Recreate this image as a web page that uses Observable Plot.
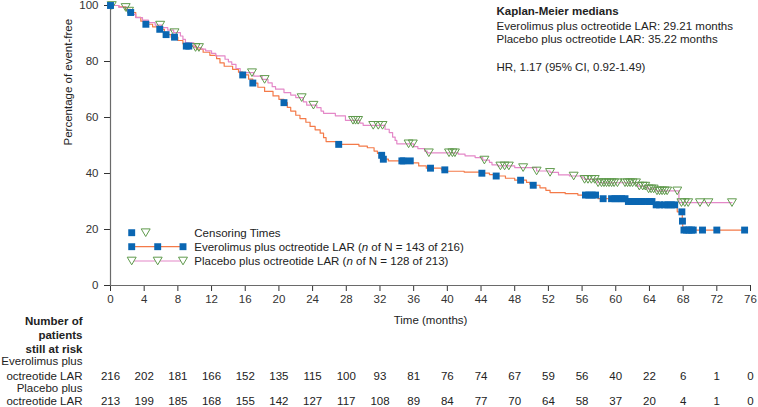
<!DOCTYPE html>
<html>
<head>
<meta charset="utf-8">
<script src="https://cdn.jsdelivr.net/npm/d3@7"></script>
<script src="https://cdn.jsdelivr.net/npm/@observablehq/plot@0.6"></script>
<style>
html, body { margin: 0; padding: 0; background: #fff; }
#chart svg { display: block; }
</style>
</head>
<body>
<div id="chart"></div>
<script>
// ---------------- DATA ----------------
const xTicks = [0, 4, 8, 12, 16, 20, 24, 28, 32, 36, 40, 44, 48, 52, 56, 60, 64, 68, 72, 76];
const yTicks = [0, 20, 40, 60, 80, 100];

// Everolimus plus octreotide LAR: Kaplan-Meier steps (time in months, % event-free after step)
const evTimes = [0, 1.0, 1.8, 2.4, 3.0, 3.6, 4.2, 5.0, 5.7, 6.4, 7.2, 8.0, 8.6, 9.0, 10.2, 11.0, 11.8, 12.6, 13.0, 13.5, 14.5, 15.2, 15.7, 16.4, 16.9, 17.5, 18.3, 19.3, 20.0, 20.6, 21.0, 21.4, 22.0, 22.5, 23.2, 23.7, 24.3, 24.9, 25.3, 25.6, 26.8, 29.5, 30.5, 31.3, 31.7, 32.2, 32.4, 33.0, 35.8, 36.6, 37.5, 39.3, 40.0, 42.0, 44.0, 45.0, 45.6, 46.9, 48.0, 49.4, 49.8, 50.2, 51.0, 51.7, 52.2, 54.0, 55.5, 57.9, 61.3, 64.6, 67.3, 67.9, 67.95, 75.3];
const evSurv = [100, 99.5, 98.6, 97.5, 95.8, 94.4, 93.3, 92.4, 91.5, 89.6, 88.7, 87.5, 86.3, 85.5, 84.4, 83.3, 82.2, 81.0, 79.5, 78.3, 77.2, 76.2, 75.2, 73.7, 72.3, 70.8, 69.3, 67.7, 66.5, 65.3, 63.6, 62.3, 60.8, 59.6, 58.3, 56.8, 55.6, 54.4, 52.8, 51.4, 50.4, 49.8, 49.2, 48.0, 47.2, 46.5, 45.1, 44.5, 43.8, 42.7, 41.9, 41.3, 40.8, 40.5, 40.1, 39.6, 39.1, 38.3, 37.6, 36.8, 36.2, 35.8, 34.9, 34.0, 33.2, 32.8, 32.3, 31.0, 30.0, 28.8, 26.3, 23.0, 19.8, 19.8];
const evCensorTimes = [0, 2.4, 4.2, 5.85, 6.6, 7.6, 9.0, 9.3, 15.7, 16.9, 20.6, 27.1, 32.2, 32.4, 34.6, 34.8, 35.6, 38.0, 39.7, 44.1, 45.8, 48.7, 50.2, 56.4, 56.8, 57.2, 57.6, 58.5, 59.5, 59.9, 60.3, 60.7, 61.1, 61.5, 61.9, 62.3, 62.7, 63.1, 63.5, 64.0, 64.3, 64.8, 65.2, 65.8, 66.2, 66.6, 67.0, 67.85, 67.92, 68.1, 68.4, 68.7, 69.0, 69.2, 70.3, 72.0, 75.3];

// Placebo plus octreotide LAR
const plTimes = [0, 1.0, 2.0, 2.6, 3.0, 3.8, 4.5, 5.3, 6.1, 6.8, 7.5, 8.3, 8.6, 8.9, 9.9, 10.8, 11.3, 12.0, 12.5, 13.6, 14.0, 14.4, 14.9, 15.4, 17.0, 18.0, 18.7, 19.2, 19.6, 20.6, 21.4, 22.0, 22.9, 23.3, 24.5, 25.0, 25.3, 26.7, 27.9, 29.6, 30.0, 32.6, 33.1, 33.5, 33.8, 34.0, 36.0, 36.5, 37.3, 37.6, 41.3, 42.1, 43.3, 44.2, 45.0, 45.3, 46.0, 48.0, 50.6, 52.2, 53.2, 54.5, 56.0, 56.3, 57.8, 62.6, 63.8, 64.8, 67.5, 73.8];
const plSurv = [100, 99.3, 98.0, 96.8, 95.7, 94.8, 93.9, 93.0, 92.1, 91.2, 90.3, 89.1, 87.9, 86.7, 85.0, 84.4, 83.8, 82.9, 82.0, 80.8, 79.9, 79.0, 77.5, 76.0, 74.8, 73.6, 72.4, 71.0, 70.1, 68.9, 68.0, 67.1, 65.6, 64.4, 63.5, 62.3, 61.5, 60.6, 59.0, 58.0, 57.2, 55.8, 54.6, 53.0, 51.8, 50.6, 49.6, 48.9, 48.0, 47.4, 46.9, 46.3, 45.7, 44.8, 44.0, 43.1, 42.7, 42.1, 40.9, 40.4, 39.5, 39.1, 38.4, 37.9, 36.7, 35.5, 34.5, 33.8, 29.6, 29.6];
const plCensorTimes = [0.15, 1.8, 2.2, 5.9, 7.6, 10.1, 10.5, 16.8, 18.3, 22.7, 24.1, 28.8, 29.1, 29.4, 31.2, 31.8, 32.3, 35.4, 35.9, 37.8, 40.2, 40.6, 40.9, 44.4, 46.3, 46.8, 47.3, 49.0, 50.6, 52.2, 55.0, 56.3, 56.7, 57.1, 57.5, 57.9, 58.3, 58.6, 58.9, 59.2, 59.5, 59.8, 60.2, 61.1, 61.4, 61.7, 62.0, 62.4, 62.8, 63.2, 63.5, 63.9, 64.2, 64.5, 64.9, 65.2, 65.5, 65.8, 66.1, 67.3, 67.8, 68.2, 68.6, 70.0, 71.0, 73.8];

// Number of patients still at risk
const riskTimes = xTicks;
const evAtRisk = [216, 202, 181, 166, 152, 135, 115, 100, 93, 81, 76, 74, 67, 59, 56, 40, 22, 6, 1, 0];
const plAtRisk = [213, 199, 185, 168, 155, 142, 127, 117, 108, 89, 84, 77, 70, 64, 58, 37, 20, 4, 1, 0];

const annotationTitle = "Kaplan-Meier medians";
const annotationLines = ["Everolimus plus octreotide LAR: 29.21 months", "Placebo plus octreotide LAR: 35.22 months"];
const hrText = "HR, 1.17 (95% CI, 0.92-1.49)";

// ---------------- STYLE ----------------
const FONT = "'Liberation Sans', Arial, Helvetica, sans-serif";
const ORANGE = "#f47a48";
const PINK = "#e488c8";
const BLUE = "#0a66b2";
const GREEN = "#5f9a4c";
const AXIS = "#6a6a6a";
const TEXT = "#222";

// ---------------- DERIVED TABLES ----------------
const stepTable = (times, surv) => times.map((t, i) => ({t, s: surv[i]}));
const survAt = (times, surv, t) => { let v = surv[0]; for (let i = 0; i < times.length; i++) if (times[i] <= t) v = surv[i]; return v; };
const evData = stepTable(evTimes, evSurv);
const plData = stepTable(plTimes, plSurv);
const evCensor = evCensorTimes.map(t => ({t, s: survAt(evTimes, evSurv, t)}));
const plCensor = plCensorTimes.map(t => ({t, s: survAt(plTimes, plSurv, t)}));
const evRisk = riskTimes.map((t, i) => ({t, n: evAtRisk[i]}));
const plRisk = riskTimes.map((t, i) => ({t, n: plAtRisk[i]}));

const triDown = {
  draw(context, size) {
    const w = Math.sqrt(size / 0.425), h = w * 0.85;
    context.moveTo(-w / 2, -h / 2);
    context.lineTo(w / 2, -h / 2);
    context.lineTo(0, h / 2);
    context.closePath();
  }
};

const label = (text, opts) => Plot.text([text], {text: d => d, fill: TEXT, lineAnchor: "middle", ...opts});

const chart = Plot.plot({
  width: 758,
  height: 407,
  marginLeft: 110,
  marginRight: 8,
  marginTop: 5,
  marginBottom: 122,
  style: {fontFamily: FONT, fontSize: "11.5px", color: "#333", background: "#fff"},
  x: {domain: [0, 76], ticks: xTicks, tickSize: 6, tickPadding: 3, label: null},
  y: {domain: [0, 100], ticks: yTicks, tickSize: 6, tickPadding: 6, label: null},
  marks: [
    Plot.ruleY([0], {stroke: AXIS, strokeWidth: 1.2}),
    Plot.ruleX([0], {stroke: AXIS, strokeWidth: 1.2}),
    Plot.line(evData, {x: "t", y: "s", curve: "step-after", stroke: ORANGE, strokeWidth: 1.2}),
    Plot.line(plData, {x: "t", y: "s", curve: "step-after", stroke: PINK, strokeWidth: 1.2}),
    Plot.dot(plCensor, {x: "t", y: "s", symbol: triDown, r: 3.3, stroke: GREEN, fill: "white", fillOpacity: 0, strokeWidth: 1}),
    Plot.dot(evCensor, {x: "t", y: "s", symbol: "square", r: 3.9, fill: BLUE, stroke: "none"}),
    // axis titles
    label("Time (months)", {frameAnchor: "bottom", dy: 34.5}),
    label("Percentage of event-free", {frameAnchor: "left", dx: -42, rotate: -90}),
    // annotation
    label(annotationTitle, {frameAnchor: "top-left", dx: 386, dy: 6.3, textAnchor: "start", fontWeight: "bold"}),
    label(annotationLines[0], {frameAnchor: "top-left", dx: 386, dy: 20.5, textAnchor: "start"}),
    label(annotationLines[1], {frameAnchor: "top-left", dx: 386, dy: 34, textAnchor: "start"}),
    label(hrText, {frameAnchor: "top-left", dx: 386, dy: 61.7, textAnchor: "start"}),
    // risk table labels
    label("Number of", {frameAnchor: "bottom-left", dx: -28, dy: 36.2, textAnchor: "end", fontWeight: "bold"}),
    label("patients", {frameAnchor: "bottom-left", dx: -28, dy: 50.3, textAnchor: "end", fontWeight: "bold"}),
    label("still at risk", {frameAnchor: "bottom-left", dx: -28, dy: 63.6, textAnchor: "end", fontWeight: "bold"}),
    label("Everolimus plus", {frameAnchor: "bottom-left", dx: -28, dy: 76.2, textAnchor: "end"}),
    label("octreotide LAR", {frameAnchor: "bottom-left", dx: -28, dy: 90.8, textAnchor: "end"}),
    label("Placebo plus", {frameAnchor: "bottom-left", dx: -28, dy: 102.8, textAnchor: "end"}),
    label("octreotide LAR", {frameAnchor: "bottom-left", dx: -28, dy: 116.3, textAnchor: "end"}),
    Plot.text(evRisk, {x: "t", text: "n", frameAnchor: "bottom", dy: 90.8, lineAnchor: "middle", fill: TEXT}),
    Plot.text(plRisk, {x: "t", text: "n", frameAnchor: "bottom", dy: 116.3, lineAnchor: "middle", fill: TEXT})
  ]
});

// ---------------- LEGEND (inside plot frame) ----------------
const svg = d3.select(chart);
const lg = svg.append("g").attr("font-family", FONT).attr("font-size", "11.5px").attr("fill", TEXT).attr("text-anchor", "start");
const rows = [232.7, 246.7, 261];
const sx = [131.7, 157.7, 183];
const sq = d3.symbol().type(d3.symbolSquare).size(Math.PI * 3.9 * 3.9)();
const tri = d3.symbol().type(triDown).size(Math.PI * 3.3 * 3.3)();
// row 1
lg.append("path").attr("d", sq).attr("transform", `translate(${sx[0]},${rows[0]})`).attr("fill", BLUE);
lg.append("path").attr("d", tri).attr("transform", `translate(145.7,${rows[0]})`).attr("fill", "white").attr("stroke", GREEN);
// row 2
lg.append("line").attr("x1", sx[0]).attr("x2", sx[2]).attr("y1", rows[1]).attr("y2", rows[1]).attr("stroke", ORANGE).attr("stroke-width", 1.2);
sx.forEach(x => lg.append("path").attr("d", sq).attr("transform", `translate(${x},${rows[1]})`).attr("fill", BLUE));
// row 3
lg.append("line").attr("x1", sx[0]).attr("x2", sx[2]).attr("y1", rows[2]).attr("y2", rows[2]).attr("stroke", PINK).attr("stroke-width", 1.2);
sx.forEach(x => lg.append("path").attr("d", tri).attr("transform", `translate(${x},${rows[2]})`).attr("fill", "white").attr("stroke", GREEN));
const legendText = [
  [["Censoring Times", false]],
  [["Everolimus plus octreotide LAR (", false], ["n", true], [" of N = 143 of 216)", false]],
  [["Placebo plus octreotide LAR (", false], ["n", true], [" of N = 128 of 213)", false]]
];
legendText.forEach((parts, i) => {
  const t = lg.append("text").attr("x", 194.3).attr("y", rows[i]).attr("dy", "0.35em").attr("text-anchor", "start");
  parts.forEach(([s, it]) => t.append("tspan").attr("font-style", it ? "italic" : null).text(s));
});

document.getElementById("chart").appendChild(chart);
</script>
</body>
</html>
